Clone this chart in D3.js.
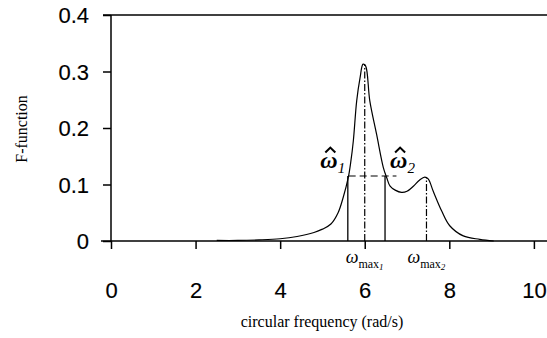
<!DOCTYPE html>
<html>
<head>
<meta charset="utf-8">
<script src="https://cdn.jsdelivr.net/npm/d3@7"></script>
<style>
  body { margin: 0; background: #fff; }
  svg { display: block; }
</style>
</head>
<body>
<div id="wrapper"></div>
<script>
// curve
const freq = [2.5, 3.0, 3.5, 4.0, 4.4, 4.8, 5.0, 5.2, 5.37, 5.49, 5.61, 5.67, 5.73, 5.81, 5.89, 5.96, 6.02, 6.12, 6.28, 6.44, 6.52, 6.6, 6.72, 6.87, 7.0, 7.15, 7.3, 7.42, 7.5, 7.62, 7.82, 8.01, 8.33, 8.72, 9.05];
const fValue = [0.001, 0.001, 0.002, 0.004, 0.008, 0.015, 0.021, 0.03, 0.05, 0.077, 0.112, 0.14, 0.177, 0.248, 0.289, 0.313, 0.31, 0.248, 0.189, 0.13, 0.112, 0.097, 0.09, 0.086, 0.088, 0.097, 0.108, 0.113, 0.11, 0.088, 0.053, 0.027, 0.009, 0.003, 0.0];

const xTicks = [0, 2, 4, 6, 8, 10];
const yTicks = [0, 0.1, 0.2, 0.3, 0.4];

// marked frequencies
const omegaHat = [5.6, 6.48];
const omegaMax = [6.0, 7.46];
const peakValues = [0.313, 0.113];
const halfLevel = 0.115;

const dimensions = {
  width: 547,
  height: 338,
  margins: { top: 15, right: 0, bottom: 97, left: 111 },
};

const svg = d3
  .select("#wrapper")
  .append("svg")
  .attr("width", dimensions.width)
  .attr("height", dimensions.height);

const xScale = d3
  .scaleLinear()
  .domain([0, 10.31])
  .range([dimensions.margins.left, dimensions.width]);

const yScale = d3
  .scaleLinear()
  .domain([0, 0.4])
  .range([dimensions.height - dimensions.margins.bottom, dimensions.margins.top]);

const sans = "'Liberation Sans', Arial, sans-serif";
const serif = "'Liberation Serif', 'Times New Roman', serif";

// top frame line
svg
  .append("line")
  .attr("x1", xScale(0) - 8)
  .attr("x2", dimensions.width)
  .attr("y1", yScale(0.4))
  .attr("y2", yScale(0.4))
  .attr("stroke", "#000")
  .attr("stroke-width", 1.5);

// axes
const yAxis = svg
  .append("g")
  .attr("transform", `translate(${xScale(0)},0)`)
  .call(d3.axisLeft(yScale).tickValues(yTicks).tickFormat((d) => (d === 0 ? "0" : d3.format(".1f")(d))).tickSize(8).tickPadding(14));

const xAxis = svg
  .append("g")
  .attr("transform", `translate(0,${yScale(0)})`)
  .call(d3.axisBottom(xScale).tickValues(xTicks).tickFormat(d3.format("d")).tickSize(8).tickPadding(38));

// stretch x axis line to the left like the original
xAxis.select(".domain").attr("d", `M${xScale(0) - 10},0H${dimensions.width}`);
yAxis.select(".domain").attr("d", `M0,${yScale(0)}V${yScale(0.4)}`);

[xAxis, yAxis].forEach((ax) => {
  ax.selectAll("path, line").attr("stroke", "#000").attr("stroke-width", 1.5);
  ax.selectAll("text")
    .attr("font-family", sans)
    .attr("font-size", 22)
    .attr("fill", "#000")
    .attr("stroke", "#000")
    .attr("stroke-width", 0.15);
});
yAxis.selectAll("text").attr("dy", "0.35em");
xAxis.selectAll("text").attr("dy", "0.5em");

// curve
const points = freq.map((f, i) => [f, fValue[i]]);
const lineGenerator = d3
  .line()
  .x((d) => xScale(d[0]))
  .y((d) => yScale(d[1]))
  .curve(d3.curveCatmullRom);

svg
  .append("path")
  .attr("d", lineGenerator(points))
  .attr("fill", "none")
  .attr("stroke", "#000")
  .attr("stroke-width", 1.2);

// solid verticals at omega hat
svg
  .selectAll(".hat-line")
  .data(omegaHat)
  .join("line")
  .attr("x1", (d) => xScale(d))
  .attr("x2", (d) => xScale(d))
  .attr("y1", yScale(0))
  .attr("y2", yScale(halfLevel))
  .attr("stroke", "#000")
  .attr("stroke-width", 1.3);

// dash-dot verticals at peaks
svg
  .selectAll(".max-line")
  .data(omegaMax)
  .join("line")
  .attr("x1", (d) => xScale(d))
  .attr("x2", (d) => xScale(d))
  .attr("y1", yScale(0))
  .attr("y2", (d, i) => yScale(peakValues[i]))
  .attr("stroke", "#000")
  .attr("stroke-width", 1.2)
  .attr("stroke-dasharray", "7,2,1.5,2");

// dashed horizontal at second peak level
svg
  .append("line")
  .attr("x1", xScale(5.62))
  .attr("x2", xScale(6.75))
  .attr("y1", yScale(halfLevel))
  .attr("y2", yScale(halfLevel))
  .attr("stroke", "#000")
  .attr("stroke-width", 1.1)
  .attr("stroke-dasharray", "7,4");

// omega hat labels
const hatLabels = [
  { sub: "1", x: 4.95, y: 0.13 },
  { sub: "2", x: 6.6, y: 0.13 },
];
hatLabels.forEach((l) => {
  const x0 = xScale(l.x);
  const y0 = yScale(l.y);
  const t = svg
    .append("text")
    .attr("x", x0)
    .attr("y", y0)
    .attr("font-family", serif)
    .attr("font-style", "italic")
    .attr("font-weight", "bold")
    .attr("font-size", 24)
    .attr("fill", "#000");
  t.append("tspan").text("\u03C9");
  t.append("tspan")
    .attr("font-size", 15)
    .attr("font-weight", "normal")
    .attr("dy", 5)
    .text(l.sub);
  // hat drawn as a small caret
  svg
    .append("path")
    .attr("d", `M${x0 + 5},${y0 - 15}L${x0 + 10},${y0 - 20}L${x0 + 15},${y0 - 15}`)
    .attr("fill", "none")
    .attr("stroke", "#000")
    .attr("stroke-width", 2);
});

// omega max labels
omegaMax.forEach((m, i) => {
  const t = svg
    .append("text")
    .attr("x", xScale(m) - 19)
    .attr("y", yScale(0) + 22)
    .attr("font-family", serif)
    .attr("font-size", 18)
    .attr("fill", "#000");
  t.append("tspan").attr("font-style", "italic").text("\u03C9");
  t.append("tspan").attr("font-size", 12).attr("dy", 5).text("max");
  t.append("tspan").attr("font-size", 9).attr("dy", 2).attr("font-style", "italic").text(String(i + 1));
});

// axis titles
svg
  .append("text")
  .attr("x", 322)
  .attr("y", 327)
  .attr("text-anchor", "middle")
  .attr("font-family", serif)
  .attr("font-size", 16)
  .attr("fill", "#000")
  .text("circular frequency (rad/s)");

svg
  .append("text")
  .attr("transform", "translate(27,129) rotate(-90)")
  .attr("text-anchor", "middle")
  .attr("font-family", serif)
  .attr("font-size", 16)
  .attr("fill", "#000")
  .text("F-function");
</script>
</body>
</html>
